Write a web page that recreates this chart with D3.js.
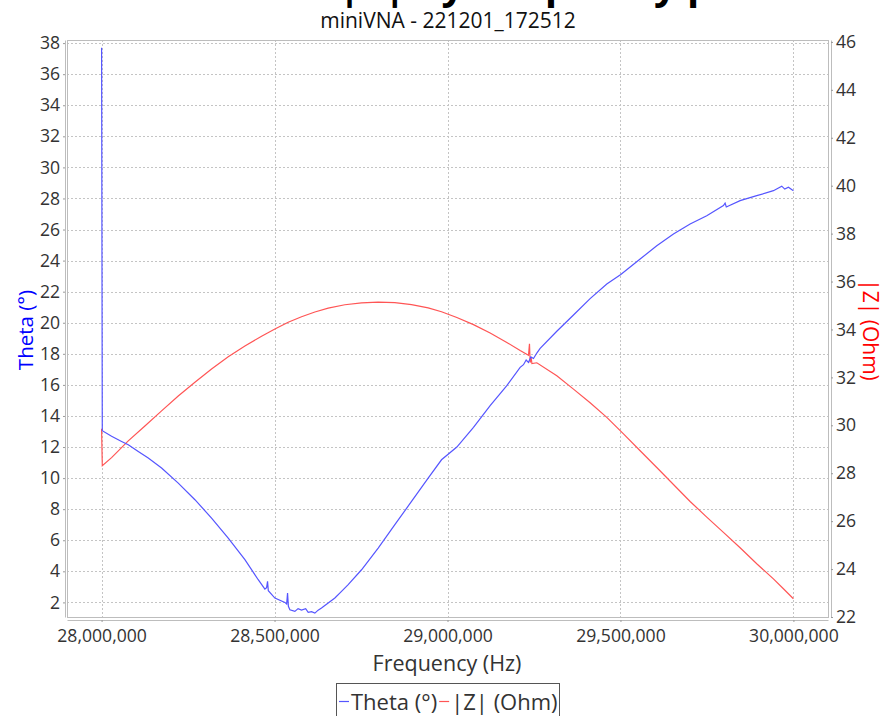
<!DOCTYPE html>
<html>
<head>
<meta charset="utf-8">
<script src="https://cdn.jsdelivr.net/npm/d3@7"></script>
<style>
  body { margin: 0; background: #fff; }
  svg { display: block; font-family: "Open Sans", sans-serif; }
</style>
</head>
<body>
<div id="chart"></div>
<script>
// frequency (Hz) and phase (deg)
const thetaFreq = [28000000, 28002000, 28028900, 28057800, 28077100, 28106000, 28134900, 28173400,
  28221600, 28269800, 28317900, 28366100, 28414300, 28452800, 28472100, 28477000, 28479800, 28482000,
  28501000, 28529900, 28535000, 28537600, 28540000, 28544300, 28558800, 28568000, 28578000, 28590000,
  28597300, 28607000, 28616600, 28626000, 28635800, 28655100, 28674400, 28693600, 28712900, 28751500,
  28799600, 28847800, 28896000, 28944100, 28982700, 29027000, 29075100, 29123300, 29171500, 29210000,
  29219700, 29227400, 29234100, 29240900, 29248600, 29258200, 29267800, 29316000, 29364200, 29412300,
  29460500, 29501000, 29556900, 29605000, 29653200, 29701400, 29749500, 29797700, 29802500, 29806000,
  29845900, 29894000, 29942200, 29966300, 29975000, 29985600, 30000000];
const thetaVals = [37.7, 13.05, 12.69, 12.36, 12.15, 11.72, 11.29, 10.65,
  9.68, 8.61, 7.43, 6.14, 4.75, 3.46, 2.86, 2.95, 3.35, 2.75,
  2.28, 2.0, 1.9, 2.6, 1.75, 1.53, 1.42, 1.6, 1.5, 1.6,
  1.36, 1.4, 1.31, 1.5, 1.64, 1.96, 2.28, 2.71, 3.14, 4.10,
  5.50, 7.0, 8.5, 10.0, 11.18, 12.0, 13.27, 14.66, 15.95, 17.13,
  17.3, 17.6, 17.45, 17.8, 17.7, 18.05, 18.35, 19.45, 20.5, 21.55,
  22.49, 23.1, 24.10, 24.96, 25.71, 26.36, 26.89, 27.54, 27.7, 27.45,
  27.86, 28.18, 28.5, 28.79, 28.6, 28.72, 28.5];

// frequency (Hz) and |Z| (Ohm)
const zFreq = [28000000, 28002000, 28028900, 28077100, 28125200, 28173400, 28221600, 28269800,
  28317900, 28366100, 28414300, 28462500, 28501000, 28539500, 28578000, 28616600, 28655100, 28703300,
  28751500, 28799600, 28847800, 28896000, 28944100, 28982700, 29027000, 29075100, 29123300, 29171500,
  29210000, 29234100, 29237000, 29239000, 29242000, 29244000, 29258200, 29316000, 29364200, 29412300,
  29460500, 29508700, 29556900, 29605000, 29653200, 29701400, 29749500, 29797700, 29845900, 29894000,
  29942200, 29971100, 30000000];
const zVals = [29.86, 28.31, 28.65, 29.35, 29.97, 30.60, 31.22, 31.80,
  32.35, 32.86, 33.31, 33.72, 34.02, 34.30, 34.53, 34.73, 34.89, 35.03,
  35.11, 35.14, 35.12, 35.04, 34.90, 34.74, 34.50, 34.20, 33.85, 33.46,
  33.12, 32.92, 33.4, 32.62, 32.82, 32.58, 32.61, 32.07, 31.51, 30.94,
  30.33, 29.64, 28.94, 28.24, 27.53, 26.82, 26.17, 25.53, 24.89, 24.22,
  23.59, 23.18, 22.76];

const xTicks = [28000000, 28500000, 29000000, 29500000, 30000000];
const thetaTicks = [2, 4, 6, 8, 10, 12, 14, 16, 18, 20, 22, 24, 26, 28, 30, 32, 34, 36, 38];
const zTicks = [22, 24, 26, 28, 30, 32, 34, 36, 38, 40, 42, 44, 46];

const chartTitle = "Theta and |Z| by frequency plot";
const subTitle = "miniVNA - 221201_172512";
const xLabel = "Frequency (Hz)";
const thetaLabel = "Theta (°)";
const zLabel = "|Z| (Ohm)";

const W = 883, H = 716;
const plotL = 67, plotR = 828, plotT = 40, plotB = 617;
const blue = "#5555ff", red = "#ff5555";

const svg = d3.select("#chart").append("svg")
  .attr("width", W)
  .attr("height", H);

svg.append("rect").attr("width", W).attr("height", H).attr("fill", "#fff");

const x = d3.scaleLinear().domain([27900000, 30100000]).range([plotL, plotR]);
const yT = d3.scaleLinear().domain([1.06, 38.2]).range([plotB, plotT]);
const yZ = d3.scaleLinear().domain([22, 46.08]).range([plotB, plotT]);

// grid
const grid = svg.append("g")
  .attr("stroke", "#c4c4c4")
  .attr("stroke-width", 1)
  .attr("stroke-dasharray", "2,2");
grid.selectAll("line.v").data(xTicks).join("line")
  .attr("class", "v")
  .attr("x1", d => Math.round(x(d)) + 0.5).attr("x2", d => Math.round(x(d)) + 0.5)
  .attr("y1", plotT).attr("y2", plotB);
grid.selectAll("line.h").data(thetaTicks).join("line")
  .attr("class", "h")
  .attr("y1", d => Math.round(yT(d)) + 0.5).attr("y2", d => Math.round(yT(d)) + 0.5)
  .attr("x1", plotL).attr("x2", plotR);

// plot outline
svg.append("rect")
  .attr("x", plotL + 0.5).attr("y", plotT + 0.5)
  .attr("width", plotR - plotL).attr("height", plotB - plotT)
  .attr("fill", "none").attr("stroke", "#bdbdbd");

// series
const thetaLine = d3.line()
  .x((d, i) => x(thetaFreq[i]))
  .y(d => yT(d));
const zLine = d3.line()
  .x((d, i) => x(zFreq[i]))
  .y(d => yZ(d));

svg.append("path").datum(zVals)
  .attr("d", zLine)
  .attr("fill", "none").attr("stroke", red).attr("stroke-width", 1.2);
svg.append("path").datum(thetaVals)
  .attr("d", thetaLine)
  .attr("fill", "none").attr("stroke", blue).attr("stroke-width", 1.2);

// axes
const styleAxis = g => {
  g.select(".domain").attr("stroke", "#bdbdbd");
  g.selectAll(".tick line").attr("stroke", "#9a9a9a");
  g.selectAll(".tick text").attr("fill", "#333").style("font-size", "17.6px")
    .style("font-family", "'Open Sans', sans-serif");
};

svg.append("g")
  .attr("transform", `translate(0,${plotB + 3})`)
  .call(d3.axisBottom(x).tickValues(xTicks).tickFormat(d3.format(",")).tickSize(2).tickSizeOuter(0).tickPadding(8))
  .call(styleAxis);

svg.append("g")
  .attr("transform", `translate(${plotL - 2},0)`)
  .call(d3.axisLeft(yT).tickValues(thetaTicks).tickSize(2).tickSizeOuter(0).tickPadding(3))
  .call(styleAxis);

svg.append("g")
  .attr("transform", `translate(${plotR + 3},0)`)
  .call(d3.axisRight(yZ).tickValues(zTicks).tickSize(2).tickSizeOuter(0).tickPadding(3))
  .call(styleAxis);

// titles
svg.append("text")
  .attr("x", 447).attr("y", -1)
  .attr("text-anchor", "middle")
  .style("font-size", "40px").style("font-weight", "bold")
  .attr("fill", "#000")
  .text(chartTitle);

svg.append("text")
  .attr("x", 448).attr("y", 28)
  .attr("text-anchor", "middle")
  .style("font-size", "21px")
  .attr("fill", "#111")
  .text(subTitle);

svg.append("text")
  .attr("x", 447).attr("y", 671)
  .attr("text-anchor", "middle")
  .style("font-size", "21.5px")
  .attr("fill", "#333")
  .text(xLabel);

svg.append("text")
  .attr("transform", "translate(33,330) rotate(-90)")
  .attr("text-anchor", "middle")
  .style("font-size", "20.5px")
  .attr("fill", "#0000ff")
  .text(thetaLabel);

svg.append("text")
  .attr("transform", "translate(863,330) rotate(90)")
  .attr("text-anchor", "middle")
  .style("font-size", "21px")
  .attr("fill", "#ff0000")
  .text(zLabel);

// legend
const legendItems = [
  { name: thetaLabel, color: blue },
  { name: zLabel, color: red }
];
const legend = svg.append("g");
legend.append("rect")
  .attr("x", 336.5).attr("y", 683.5)
  .attr("width", 223).attr("height", 40)
  .attr("fill", "#fff").attr("stroke", "#555");
let lx = 339;
legendItems.forEach(item => {
  legend.append("line")
    .attr("x1", lx).attr("x2", lx + 10)
    .attr("y1", 701.5).attr("y2", 701.5)
    .attr("stroke", item.color).attr("stroke-width", 1.2);
  const t = legend.append("text")
    .attr("x", lx + 12).attr("y", 710)
    .style("font-size", "22px")
    .attr("fill", "#333")
    .text(item.name);
  lx += 12 + t.node().getComputedTextLength() + 2;
});
</script>
</body>
</html>
